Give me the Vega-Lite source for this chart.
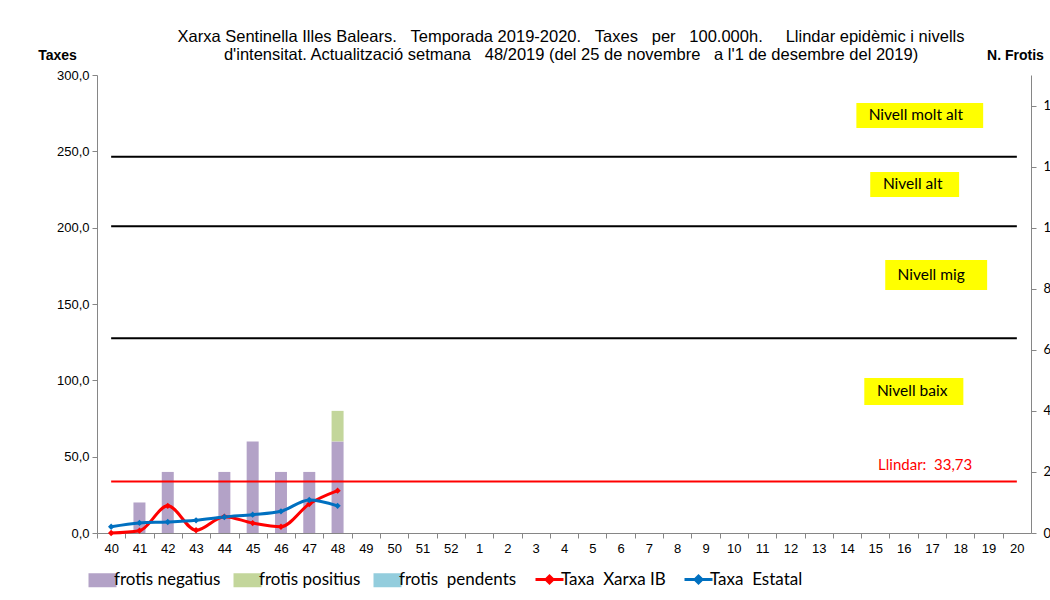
{
  "$schema": "https://vega.github.io/schema/vega-lite/v6.json",
  "width": 934,
  "height": 458,
  "autosize": {"type": "none"},
  "padding": {"left": 97, "top": 75, "right": 19, "bottom": 67},
  "background": "white",
  "config": {"view": {"stroke": null}, "font": "Liberation Sans", "axisX": {"labelOverlap": false}},
  "title": {
    "text": [
      "Xarxa Sentinella Illes Balears.\u00a0 \u00a0Temporada 2019-2020.\u00a0 \u00a0Taxes\u00a0 \u00a0per\u00a0 \u00a0100.000h.\u00a0 \u00a0\u00a0 Llindar epidèmic i nivells",
      "d'intensitat. Actualització setmana\u00a0 \u00a048/2019 (del 25 de novembre\u00a0 \u00a0a l'1 de desembre del 2019)"
    ],
    "font": "Liberation Sans",
    "fontSize": 16.5,
    "fontWeight": "normal",
    "color": "black",
    "anchor": "middle",
    "dx": 7,
    "offset": -15,
    "lineHeight": 18
  },
  "datasets": {
    "frotis": [
      {"n": 1, "setmana": "41", "tipus": "frotis negatius", "frotis": 1},
      {"n": 2, "setmana": "42", "tipus": "frotis negatius", "frotis": 2},
      {"n": 4, "setmana": "44", "tipus": "frotis negatius", "frotis": 2},
      {"n": 5, "setmana": "45", "tipus": "frotis negatius", "frotis": 3},
      {"n": 6, "setmana": "46", "tipus": "frotis negatius", "frotis": 2},
      {"n": 7, "setmana": "47", "tipus": "frotis negatius", "frotis": 2},
      {"n": 8, "setmana": "48", "tipus": "frotis negatius", "frotis": 3},
      {"n": 8, "setmana": "48", "tipus": "frotis positius", "frotis": 1},
      {"n": 8, "setmana": "48", "tipus": "frotis\u00a0 pendents", "frotis": 0}
    ],
    "taxes": [
      {"n": 0, "setmana": "40", "serie": "Taxa\u00a0 Xarxa IB", "taxa": 0.0},
      {"n": 1, "setmana": "41", "serie": "Taxa\u00a0 Xarxa IB", "taxa": 1.5},
      {"n": 2, "setmana": "42", "serie": "Taxa\u00a0 Xarxa IB", "taxa": 17.8},
      {"n": 3, "setmana": "43", "serie": "Taxa\u00a0 Xarxa IB", "taxa": 1.8},
      {"n": 4, "setmana": "44", "serie": "Taxa\u00a0 Xarxa IB", "taxa": 10.7},
      {"n": 5, "setmana": "45", "serie": "Taxa\u00a0 Xarxa IB", "taxa": 6.5},
      {"n": 6, "setmana": "46", "serie": "Taxa\u00a0 Xarxa IB", "taxa": 4.1},
      {"n": 7, "setmana": "47", "serie": "Taxa\u00a0 Xarxa IB", "taxa": 19.0},
      {"n": 8, "setmana": "48", "serie": "Taxa\u00a0 Xarxa IB", "taxa": 27.7},
      {"n": 0, "setmana": "40", "serie": "Taxa\u00a0 Estatal", "taxa": 4.1},
      {"n": 1, "setmana": "41", "serie": "Taxa\u00a0 Estatal", "taxa": 6.6},
      {"n": 2, "setmana": "42", "serie": "Taxa\u00a0 Estatal", "taxa": 7.2},
      {"n": 3, "setmana": "43", "serie": "Taxa\u00a0 Estatal", "taxa": 8.3},
      {"n": 4, "setmana": "44", "serie": "Taxa\u00a0 Estatal", "taxa": 10.5},
      {"n": 5, "setmana": "45", "serie": "Taxa\u00a0 Estatal", "taxa": 12.0},
      {"n": 6, "setmana": "46", "serie": "Taxa\u00a0 Estatal", "taxa": 14.2},
      {"n": 7, "setmana": "47", "serie": "Taxa\u00a0 Estatal", "taxa": 21.6},
      {"n": 8, "setmana": "48", "serie": "Taxa\u00a0 Estatal", "taxa": 17.8}
    ],
    "nivells": [
      {"limit": "baix-mig", "valor": 127.5, "n": 0, "n2": 32},
      {"limit": "mig-alt", "valor": 201.0, "n": 0, "n2": 32},
      {"limit": "alt-molt alt", "valor": 246.5, "n": 0, "n2": 32}
    ],
    "llindar": [
      {"limit": "Llindar", "valor": 33.73, "n": 0, "n2": 32}
    ],
    "llindarText": [
      {"text": "Llindar:\u00a0 33,73", "n": 28.76, "y": 44.5}
    ],
    "caixes": [
      {"nivell": "molt alt", "n": 26.33, "n2": 30.81, "y1": 281.7, "y2": 265.3},
      {"nivell": "alt", "n": 26.82, "n2": 29.96, "y1": 236.5, "y2": 220.1},
      {"nivell": "mig", "n": 27.35, "n2": 30.95, "y1": 178.8, "y2": 159.2},
      {"nivell": "baix", "n": 26.61, "n2": 30.11, "y1": 101.5, "y2": 83.8}
    ],
    "etiquetes": [
      {"text": "Nivell molt alt", "n": 28.43, "y": 273.5},
      {"text": "Nivell alt", "n": 28.32, "y": 228.3},
      {"text": "Nivell mig", "n": 28.97, "y": 169.0},
      {"text": "Nivell baix", "n": 28.30, "y": 92.7}
    ]
  },
  "encoding": {
    "x": {
      "field": "n",
      "type": "quantitative",
      "scale": {"domain": [-0.5, 32.5], "nice": false, "zero": false, "padding": 0},
      "axis": {
        "title": null,
        "values": [0,1,2,3,4,5,6,7,8,9,10,11,12,13,14,15,16,17,18,19,20,21,22,23,24,25,26,27,28,29,30,31,32],
        "labelExpr": "datum.value <= 12 ? datum.value + 40 : datum.value - 12",
        "grid": false,
        "tickOffset": -14.15,
        "labelOffset": 14.15,
        "tickSize": 5,
        "tickColor": "#868686",
        "domainColor": "#868686",
        "labelFont": "Liberation Sans",
        "labelFontSize": 13,
        "labelColor": "black",
        "labelPadding": 4,
        "labelFlush": false,
        "labelOverlap": false
      }
    }
  },
  "layer": [
    {
      "data": {"name": "frotis"},
      "mark": {"type": "bar", "size": 12},
      "encoding": {
        "y": {
          "field": "frotis",
          "type": "quantitative",
          "stack": "zero",
          "scale": {"domain": [0, 15], "nice": false},
          "axis": {
            "orient": "right",
            "values": [0, 2, 4, 6, 8, 10, 12, 14],
            "grid": false,
            "tickSize": 5,
            "tickColor": "#868686",
            "domainColor": "#868686",
            "labelFont": "Lato",
            "labelFontSize": 13,
            "labelColor": "black",
            "labelPadding": 7,
            "title": "N. Frotis",
            "titleAngle": 0,
            "titleAlign": "center",
            "titleBaseline": "middle",
            "titleX": -16,
            "titleY": -20,
            "titleFont": "Liberation Sans",
            "titleFontSize": 14,
            "titleFontWeight": "bold",
            "titleColor": "black"
          }
        },
        "order": {"field": "tipus", "sort": "ascending"},
        "color": {
          "field": "tipus",
          "type": "nominal",
          "scale": {
            "domain": ["frotis negatius", "frotis positius", "frotis\u00a0 pendents", "Taxa\u00a0 Xarxa IB", "Taxa\u00a0 Estatal"],
            "range": ["#B3A2C7", "#C3D69B", "#93CDDD", "#FF0000", "#0070C0"]
          },
          "legend": {
            "title": null,
            "orient": "none",
            "legendX": -3,
            "legendY": 496,
            "direction": "horizontal",
            "columns": 5,
            "columnPadding": 12,
            "labelFont": "Lato",
            "labelFontSize": 17,
            "labelColor": "black",
            "labelOffset": 3,
            "symbolSize": 784,
            "encode": {
              "symbols": {
                "update": {
                  "shape": {"signal": "indexof('' + datum.value, 'Taxa') === 0 ? 'M-1,0H1M-0.25,0L0,-0.25L0.25,0L0,0.25Z' : 'M-1,-0.5H1V0.5H-1Z'"},
                  "strokeWidth": {"signal": "indexof('' + datum.value, 'Taxa') === 0 ? 3 : 0"},
                  "opacity": {"value": 1},
                  "fillOpacity": {"value": 1}
                }
              }
            }
          }
        }
      }
    },
    {
      "layer": [
        {
          "data": {"name": "nivells"},
          "mark": {"type": "rule", "color": "black", "strokeWidth": 2},
          "encoding": {
            "x2": {"field": "n2"},
            "y": {"field": "valor", "type": "quantitative", "scale": {"domain": [0, 300], "nice": false},
              "axis": {
                "values": [0, 50, 100, 150, 200, 250, 300],
                "labelExpr": "replace(format(datum.value, '.1f'), '.', ',')",
                "grid": false,
                "tickSize": 5,
                "tickColor": "#868686",
                "domainColor": "#868686",
                "labelFont": "Liberation Sans",
                "labelFontSize": 13,
                "labelColor": "black",
                "labelPadding": 3,
                "title": "Taxes",
                "titleAngle": 0,
                "titleAlign": "center",
                "titleBaseline": "middle",
                "titleX": -40,
                "titleY": -20,
                "titleFont": "Liberation Sans",
                "titleFontSize": 14,
                "titleFontWeight": "bold",
                "titleColor": "black"
              }
            }
          }
        },
        {
          "data": {"name": "llindar"},
          "mark": {"type": "rule", "color": "#FF0000", "strokeWidth": 2},
          "encoding": {
            "x2": {"field": "n2"},
            "y": {"field": "valor", "type": "quantitative", "scale": {"domain": [0, 300], "nice": false}}
          }
        },
        {
          "data": {"name": "llindarText"},
          "mark": {"type": "text", "color": "#FF0000", "font": "Lato", "fontSize": 15, "align": "center", "baseline": "middle"},
          "encoding": {
            "y": {"field": "y", "type": "quantitative", "scale": {"domain": [0, 300], "nice": false}},
            "text": {"field": "text"}
          }
        },
        {
          "data": {"name": "caixes"},
          "mark": {"type": "rect", "color": "#FFFF00"},
          "encoding": {
            "x2": {"field": "n2"},
            "y": {"field": "y1", "type": "quantitative", "scale": {"domain": [0, 300], "nice": false}},
            "y2": {"field": "y2"}
          }
        },
        {
          "data": {"name": "etiquetes"},
          "mark": {"type": "text", "color": "black", "font": "Lato", "fontSize": 15.5, "align": "center", "baseline": "middle"},
          "encoding": {
            "y": {"field": "y", "type": "quantitative", "scale": {"domain": [0, 300], "nice": false}},
            "text": {"field": "text"}
          }
        },
        {
          "data": {"name": "taxes"},
          "mark": {"type": "line", "strokeWidth": 3, "interpolate": "monotone"},
          "encoding": {
            "y": {"field": "taxa", "type": "quantitative", "scale": {"domain": [0, 300], "nice": false}},
            "color": {"field": "serie", "type": "nominal", "legend": null}
          }
        },
        {
          "data": {"name": "taxes"},
          "mark": {"type": "point", "shape": "diamond", "filled": true, "size": 40, "opacity": 1},
          "encoding": {
            "y": {"field": "taxa", "type": "quantitative", "scale": {"domain": [0, 300], "nice": false}},
            "color": {"field": "serie", "type": "nominal", "legend": null}
          }
        }
      ]
    }
  ],
  "resolve": {"scale": {"y": "independent"}}
}
